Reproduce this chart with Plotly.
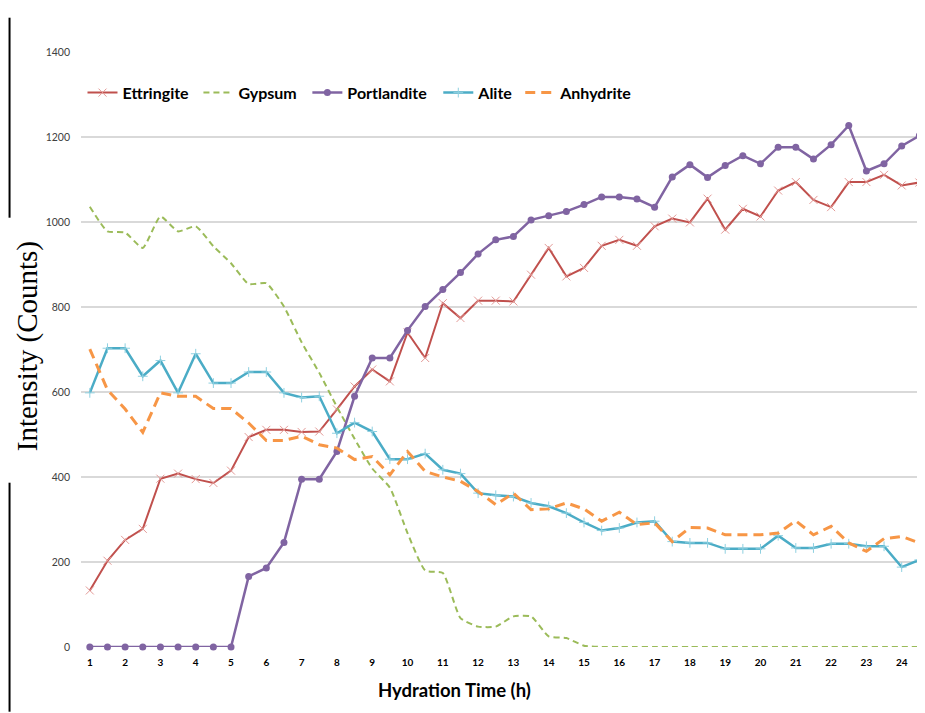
import plotly.graph_objects as go

hours = [1, 1.5, 2, 2.5, 3, 3.5, 4, 4.5, 5, 5.5, 6, 6.5, 7, 7.5, 8, 8.5, 9, 9.5, 10, 10.5,
         11, 11.5, 12, 12.5, 13, 13.5, 14, 14.5, 15, 15.5, 16, 16.5, 17, 17.5, 18, 18.5,
         19, 19.5, 20, 20.5, 21, 21.5, 22, 22.5, 23, 23.5, 24, 24.5]

ettringite = [133, 203, 252, 278, 396, 408, 395, 386, 415, 494, 511, 511, 506, 507, 559, 613,
              653, 625, 740, 680, 809, 774, 815, 815, 813, 876, 939, 872, 892, 944, 958, 944,
              990, 1008, 999, 1055, 982, 1031, 1013, 1074, 1094, 1052, 1035, 1094, 1094, 1111,
              1086, 1093]

gypsum = [1036, 978, 975, 939, 1013, 978, 990, 943, 903, 854, 856, 801, 717, 645, 565, 490,
          420, 375, 268, 180, 174, 68, 48, 48, 72, 72, 25, 21, 3, 0, 0, 0,
          0, 0, 0, 0, 0, 0, 0, 0, 0, 0, 0, 0, 0, 0, 0, 0]

portlandite = [0, 0, 0, 0, 0, 0, 0, 0, 0, 166, 186, 246, 395, 395, 460, 590,
               680, 680, 745, 801, 841, 881, 925, 958, 966, 1005, 1015, 1025, 1041, 1059, 1059, 1054,
               1035, 1106, 1135, 1105, 1133, 1156, 1137, 1176, 1176, 1148, 1182, 1227, 1120, 1137,
               1179, 1203]

alite = [598, 703, 703, 637, 674, 598, 690, 621, 621, 647, 647, 598, 587, 590, 503, 528,
         507, 442, 442, 455, 417, 408, 362, 357, 354, 339, 331, 315, 293, 274, 280, 293,
         296, 248, 245, 245, 231, 231, 231, 262, 233, 233, 243, 243, 237, 237, 188, 205]

anhydrite = [701, 605, 560, 505, 598, 590, 590, 561, 561, 527, 486, 486, 496, 476, 468, 441,
             448, 405, 460, 413, 400, 390, 366, 335, 362, 323, 325, 339, 325, 296, 317, 288,
             292, 248, 281, 280, 264, 264, 264, 268, 297, 264, 284, 245, 225, 255, 260, 245]

x_ticks = [1, 2, 3, 4, 5, 6, 7, 8, 9, 10, 11, 12, 13, 14, 15, 16, 17, 18, 19, 20, 21, 22, 23, 24]
y_ticks = [0, 200, 400, 600, 800, 1000, 1200, 1400]

# figure geometry (page has an 8px body margin)
W, H = 917, 705
L, R, T = 72.5, 0, 44.3
B = H - 639.3
pw = W - L - R
ph = H - T - B


def fx(px):
    return (px - L) / pw


def fy(py):
    return (H - B - py) / ph


fig = go.Figure()

fig.add_trace(go.Scatter(
    x=hours, y=ettringite, name="Ettringite", mode="lines+markers", legend="legend",
    line=dict(color="#c0504d", width=2),
    marker=dict(symbol="x-thin", size=8, line=dict(color="#e39a97", width=1), color="#e39a97"),
    cliponaxis=False))
fig.add_trace(go.Scatter(
    x=hours, y=gypsum, name="Gypsum", mode="lines", legend="legend2",
    line=dict(color="#9bbb59", width=2, dash="6px,4px", shape="spline", smoothing=0.5),
    cliponaxis=False))
fig.add_trace(go.Scatter(
    x=hours, y=portlandite, name="Portlandite", mode="lines+markers", legend="legend3",
    line=dict(color="#8064a2", width=2.5),
    marker=dict(symbol="circle", size=7, color="#8064a2"),
    cliponaxis=False))
fig.add_trace(go.Scatter(
    x=hours, y=alite, name="Alite", mode="lines+markers", legend="legend4",
    line=dict(color="#4bacc6", width=2.5),
    marker=dict(symbol="cross-thin", size=7, line=dict(color="#8fd0e0", width=1)),
    cliponaxis=False))
fig.add_trace(go.Scatter(
    x=hours, y=anhydrite, name="Anhydrite", mode="lines", legend="legend5",
    line=dict(color="#f79646", width=3, dash="10px,6px"),
    cliponaxis=False))

leg_font = dict(size=16, family="Lato, sans-serif", color="#000000", weight="bold")


def leg(text_x):
    return dict(orientation="h", x=fx(text_x - 48), y=fy(85), xanchor="left", yanchor="middle",
                font=leg_font, bgcolor="rgba(0,0,0,0)", itemwidth=30)


fig.update_layout(
    width=W, height=H,
    margin=dict(l=L, r=R, t=T, b=B, pad=0),
    paper_bgcolor="white", plot_bgcolor="white",
    font=dict(family="Lato, Open Sans, sans-serif", color="#000000"),
    showlegend=True,
    legend=leg(122), legend2=leg(238), legend3=leg(347), legend4=leg(478), legend5=leg(560),
    xaxis=dict(
        range=[0.75, 0.75 + pw / 35.32], tickmode="array", tickvals=x_ticks,
        ticktext=[str(v) for v in x_ticks], showgrid=False, zeroline=False, showline=False,
        ticks="", tickfont=dict(size=10, family="Lato, sans-serif", color="#000000", weight="bold"),
        ticklabelstandoff=8,
    ),
    yaxis=dict(
        range=[0, 1400], tickmode="array", tickvals=y_ticks, ticktext=[str(v) for v in y_ticks],
        showgrid=True, gridcolor="#d9d9d9", gridwidth=2, zeroline=False, showline=False,
        ticks="", tickfont=dict(size=10.5, family="Lato, sans-serif", color="#404040"),
        ticklabelstandoff=10,
    ),
    annotations=[
        dict(text="Intensity (Counts)", x=fx(19), y=fy(339),
             xref="paper", yref="paper", textangle=-90, showarrow=False,
             xanchor="center", yanchor="middle",
             font=dict(size=29, family="Liberation Serif, Times New Roman, serif", color="#000000")),
        dict(text="<b>Hydration Time (h)</b>", x=fx(446), y=fy(682),
             xref="paper", yref="paper", showarrow=False, xanchor="center", yanchor="middle",
             font=dict(size=18.5, family="Lato, sans-serif", color="#000000")),
    ],
    shapes=[
        dict(type="line", xref="paper", yref="paper",
             x0=fx(1), x1=fx(1), y0=fy(10), y1=fy(210),
             line=dict(color="black", width=2)),
        dict(type="line", xref="paper", yref="paper",
             x0=fx(1), x1=fx(1), y0=fy(475), y1=fy(704),
             line=dict(color="black", width=2)),
    ],
)

fig.write_html("out.html")
